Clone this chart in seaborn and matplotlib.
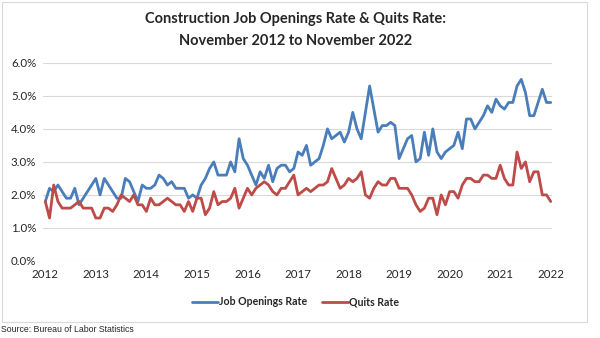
import numpy as np
import pandas as pd
import matplotlib
matplotlib.use("Agg")
import matplotlib.pyplot as plt
import seaborn as sns
from matplotlib.patches import Rectangle
from matplotlib.lines import Line2D

# Monthly data, Nov 2012 .. Nov 2022 (121 months)
job_openings = [
    1.8, 2.2, 2.1, 2.3, 2.1, 1.9, 1.9, 2.2, 1.7, 1.9, 2.1, 2.3,
    2.5, 2.0, 2.5, 2.3, 2.1, 1.9, 1.9, 2.5, 2.4, 2.1, 1.8, 2.3,
    2.2, 2.2, 2.3, 2.6, 2.5, 2.3, 2.4, 2.2, 2.2, 2.2, 1.9, 2.0,
    1.9, 2.3, 2.5, 2.8, 3.0, 2.6, 2.6, 2.6, 3.0, 2.7, 3.7, 3.1,
    2.9, 2.6, 2.3, 2.7, 2.5, 2.9, 2.4, 2.8, 2.9, 2.9, 2.7, 2.8,
    3.3, 3.2, 3.5, 2.9, 3.0, 3.1, 3.5, 4.0, 3.7, 3.8, 3.9, 3.6,
    3.9, 4.5, 4.0, 3.7, 4.5, 5.3, 4.6, 3.9, 4.1, 4.1, 4.2, 4.1,
    3.1, 3.4, 3.7, 3.8, 3.0, 3.1, 3.9, 3.2, 4.0, 3.3, 3.1, 3.3,
    3.4, 3.5, 3.9, 3.4, 4.3, 4.3, 4.0, 4.2, 4.4, 4.7, 4.5, 4.9,
    4.7, 4.6, 4.8, 4.8, 5.3, 5.5, 5.1, 4.4, 4.4, 4.8, 5.2, 4.8,
    4.8,
]
quits = [
    1.8, 1.3, 2.3, 1.8, 1.6, 1.6, 1.6, 1.7, 1.8, 1.6, 1.6, 1.6,
    1.3, 1.3, 1.6, 1.6, 1.5, 1.7, 2.0, 1.9, 1.8, 2.0, 1.7, 1.7,
    1.5, 1.9, 1.7, 1.7, 1.8, 1.9, 1.8, 1.7, 1.7, 1.5, 1.8, 1.5,
    1.9, 1.9, 1.4, 1.6, 2.1, 1.7, 1.8, 1.8, 1.9, 2.2, 1.6, 1.9,
    2.2, 2.0, 2.2, 2.3, 2.4, 2.3, 2.1, 2.0, 2.2, 2.2, 2.4, 2.6,
    2.0, 2.1, 2.2, 2.1, 2.2, 2.3, 2.3, 2.4, 2.8, 2.5, 2.2, 2.3,
    2.5, 2.4, 2.5, 2.7, 2.0, 1.9, 2.2, 2.4, 2.3, 2.3, 2.5, 2.5,
    2.2, 2.2, 2.2, 2.0, 1.7, 1.5, 1.6, 1.9, 1.9, 1.4, 2.0, 1.7,
    2.1, 2.1, 1.9, 2.3, 2.5, 2.5, 2.4, 2.4, 2.6, 2.6, 2.5, 2.5,
    2.9, 2.5, 2.3, 2.3, 3.3, 2.8, 3.0, 2.4, 2.7, 2.7, 2.0, 2.0,
    1.8,
]
year_labels = ["2012", "2013", "2014", "2015", "2016", "2017",
               "2018", "2019", "2020", "2021", "2022"]
series_names = ["Job Openings Rate", "Quits Rate"]
series_colors = ["#4A7EBB", "#BE4B48"]

n = len(job_openings)
df = pd.DataFrame({
    "month": list(range(n)) * 2,
    "rate": job_openings + quits,
    "series": [series_names[0]] * n + [series_names[1]] * len(quits),
})

sns.set_style("white")
plt.rcParams["font.family"] = ["Liberation Sans", "DejaVu Sans"]

fig = plt.figure(figsize=(6.0, 3.38), dpi=100)
ax = fig.add_axes([0.072, 0.228, 0.848, 0.586])

sns.lineplot(data=df, x="month", y="rate", hue="series",
             palette=dict(zip(series_names, series_colors)),
             linewidth=2.0, ax=ax, legend=False)

ax.set_xlim(-0.5, 120.3)
ax.set_ylim(0, 6)
ax.set_yticks(np.arange(0, 7, 1))
ax.set_yticklabels([f"{v:.1f}%" for v in range(7)], fontsize=8.3,
                   family=["Lato", "DejaVu Sans"])
ax.set_xticks(np.arange(0, 121, 12))
ax.set_xticklabels(year_labels, fontsize=8.3, family=["Lato", "DejaVu Sans"])
ax.tick_params(axis="y", length=0, pad=5)
ax.tick_params(axis="x", length=0, pad=6)
ax.grid(axis="y", color="#D9D9D9", linewidth=0.8)
ax.grid(axis="x", visible=False)
for s in ax.spines.values():
    s.set_visible(False)
ax.set_xlabel("")
ax.set_ylabel("")

handles = [Line2D([0], [0], color=c, lw=2.0) for c in series_colors]
fig.legend(handles, series_names, loc="center", bbox_to_anchor=(0.493, 0.107),
           ncol=2, frameon=False, handlelength=2.4, handletextpad=0.15,
           columnspacing=1.4, prop={"family": ["Lato", "DejaVu Sans"],
                                    "weight": "bold", "size": 7.6})

fig.text(0.492, 0.945, "Construction Job Openings Rate & Quits Rate:",
         ha="center", va="center", fontsize=10.5, fontweight="bold",
         family=["Lato", "DejaVu Sans"])
fig.text(0.492, 0.88, "November 2012 to November 2022",
         ha="center", va="center", fontsize=10.5, fontweight="bold",
         family=["Lato", "DejaVu Sans"])

fig.patches.append(Rectangle((0.004, 0.047), 0.974, 0.947, transform=fig.transFigure,
                             fill=False, edgecolor="#D9D9D9", linewidth=0.8))
fig.text(0.002, 0.025, "Source: Bureau of Labor Statistics", ha="left", va="center",
         fontsize=6.3)

fig.savefig("out.png", dpi=100)
